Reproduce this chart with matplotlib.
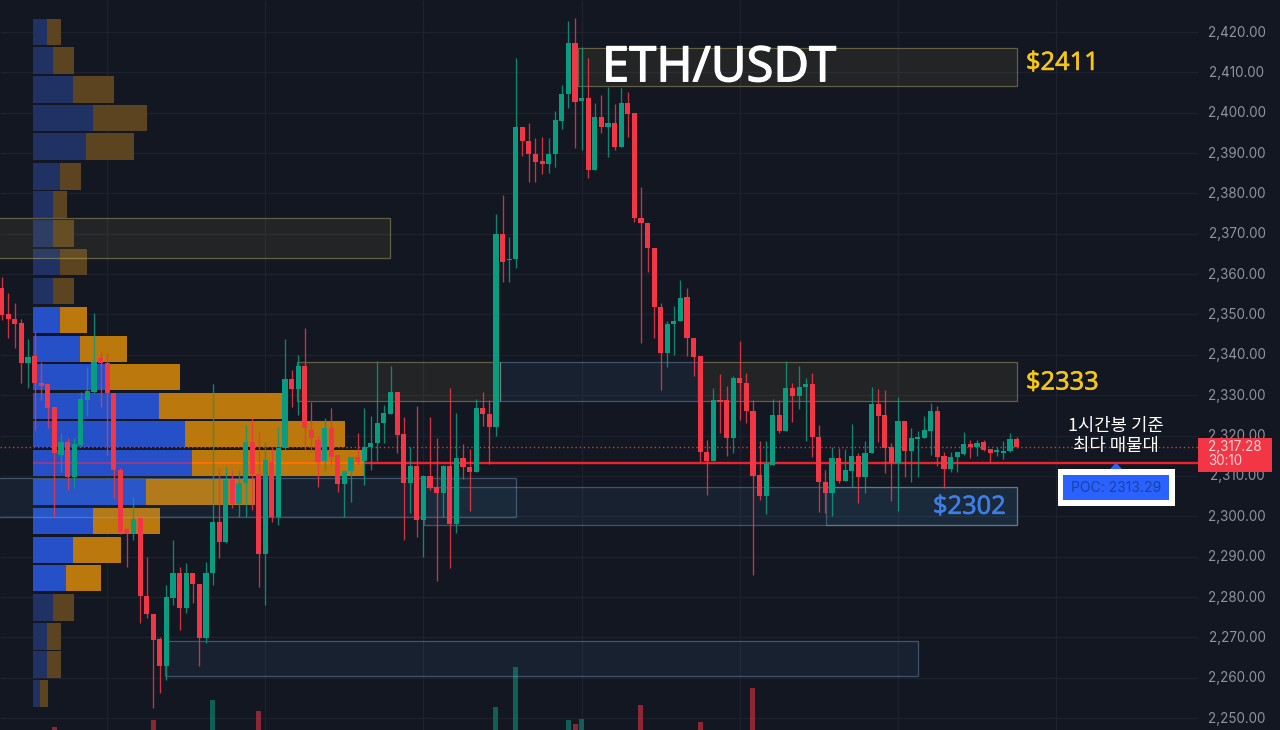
import matplotlib
matplotlib.use("Agg")
import matplotlib.pyplot as plt
import matplotlib.patheffects as pe
from matplotlib.patches import Rectangle, Polygon

plt.rcParams['font.family'] = ['Noto Sans', 'DejaVu Sans']

# Candles (1h ETH/USDT)
opens = [2356.6, 2350.1, 2348.9, 2347.9, 2338.0, 2339.7, 2333.0, 2332.8, 2327.0, 2315.2,
         2318.4, 2309.7, 2317.7, 2328.8, 2330.8, 2339.2, 2338.0, 2330.5, 2311.5, 2296.8,
         2295.6, 2299.6, 2280.2, 2275.8, 2269.6, 2262.9, 2279.7, 2285.9, 2277.3, 2285.9,
         2283.2, 2269.8, 2285.9, 2298.6, 2293.6, 2309.0, 2303.0, 2308.2, 2318.4, 2310.5,
         2290.7, 2313.4, 2299.8, 2316.9, 2334.0, 2331.5, 2337.2, 2321.4, 2318.9, 2313.7,
         2321.9, 2315.2, 2308.0, 2311.2, 2314.7, 2313.7, 2317.2, 2318.2, 2323.1, 2325.3,
         2330.8, 2320.4, 2308.2, 2312.4, 2299.1, 2310.0, 2307.2, 2305.8, 2312.4, 2298.1,
         2314.4, 2312.2, 2311.0, 2326.8, 2325.3, 2322.1, 2369.9, 2363.4, 2363.7, 2396.4,
         2393.0, 2389.8, 2388.0, 2387.3, 2389.8, 2398.0, 2404.6, 2417.3, 2402.9, 2403.6,
         2385.8, 2398.9, 2396.4, 2397.4, 2391.5, 2402.4, 2399.9, 2373.9, 2372.7, 2366.5,
         2351.8, 2340.4, 2347.6, 2348.4, 2354.3, 2344.2, 2339.7, 2315.9, 2313.7, 2328.8,
         2328.8, 2319.4, 2334.2, 2333.0, 2326.1, 2310.2, 2305.0, 2312.7, 2325.1, 2321.1,
         2331.8, 2329.8, 2332.0, 2332.8, 2319.6, 2308.5, 2305.8, 2314.4, 2308.7, 2311.2,
         2314.9, 2309.7, 2315.7, 2327.8, 2325.1, 2317.2, 2313.2, 2323.6, 2316.2, 2319.1,
         2319.4, 2321.1, 2326.1, 2314.9, 2311.7, 2314.7, 2315.4, 2317.9, 2317.2, 2318.4,
         2316.7, 2315.9, 2315.7, 2316.2, 2319.1]
highs = [2359.3, 2355.3, 2352.8, 2348.9, 2343.9, 2345.6, 2338.2, 2332.8, 2327.0, 2320.6,
         2319.4, 2319.4, 2330.8, 2337.0, 2350.4, 2340.7, 2340.5, 2330.5, 2312.0, 2297.0,
         2304.8, 2299.6, 2289.9, 2275.8, 2270.0, 2283.0, 2294.1, 2287.4, 2288.4, 2285.9,
         2283.2, 2288.7, 2332.8, 2312.0, 2312.2, 2311.5, 2311.5, 2322.6, 2324.3, 2320.9,
         2318.4, 2317.2, 2322.1, 2343.9, 2336.2, 2340.0, 2346.6, 2328.3, 2319.9, 2324.3,
         2326.8, 2315.2, 2311.2, 2314.7, 2320.6, 2326.8, 2324.8, 2338.5, 2327.6, 2337.2,
         2330.8, 2324.6, 2317.2, 2327.3, 2310.2, 2324.6, 2319.4, 2312.7, 2331.8, 2325.6,
         2317.9, 2316.7, 2329.0, 2330.8, 2328.8, 2375.0, 2379.6, 2369.2, 2413.6, 2396.4,
         2397.4, 2393.7, 2394.0, 2393.7, 2400.4, 2406.9, 2422.7, 2423.5, 2416.3, 2413.6,
         2402.4, 2404.4, 2406.4, 2402.2, 2406.1, 2405.1, 2399.9, 2381.6, 2372.7, 2366.5,
         2352.8, 2348.4, 2352.1, 2358.5, 2356.6, 2344.2, 2339.7, 2318.9, 2331.8, 2335.2,
         2332.3, 2334.8, 2343.4, 2335.5, 2328.8, 2318.6, 2318.6, 2329.0, 2328.8, 2338.5,
         2333.0, 2337.2, 2334.3, 2335.5, 2322.6, 2311.5, 2317.2, 2316.9, 2316.7, 2322.9,
         2315.7, 2318.6, 2332.0, 2331.5, 2331.3, 2318.2, 2329.5, 2323.6, 2321.9, 2321.1,
         2324.8, 2328.0, 2327.3, 2315.9, 2316.0, 2315.9, 2320.9, 2318.9, 2318.9, 2318.9,
         2316.7, 2317.2, 2318.6, 2320.6, 2319.6]
lows = [2348.6, 2344.2, 2341.7, 2333.0, 2331.8, 2321.4, 2328.8, 2321.9, 2299.8, 2311.0,
        2306.5, 2307.0, 2317.2, 2324.8, 2330.5, 2327.0, 2315.2, 2304.5, 2295.5, 2287.4,
        2294.1, 2273.5, 2274.8, 2252.5, 2256.2, 2259.4, 2278.0, 2271.8, 2276.0, 2278.5,
        2262.9, 2268.6, 2283.0, 2289.6, 2293.3, 2302.0, 2299.8, 2299.8, 2301.5, 2282.5,
        2278.0, 2298.6, 2297.8, 2316.4, 2327.0, 2325.1, 2316.4, 2316.0, 2307.2, 2311.5,
        2312.7, 2306.0, 2299.8, 2303.5, 2313.0, 2307.7, 2311.5, 2313.7, 2318.2, 2325.3,
        2315.7, 2294.1, 2300.8, 2294.9, 2289.9, 2306.5, 2284.0, 2299.8, 2287.2, 2295.9,
        2309.2, 2301.3, 2311.0, 2322.4, 2312.9, 2320.0, 2358.0, 2358.0, 2361.5, 2389.3,
        2382.8, 2382.8, 2384.8, 2385.0, 2386.5, 2396.0, 2401.2, 2391.2, 2390.8, 2383.8,
        2385.8, 2395.0, 2389.0, 2390.8, 2391.5, 2394.0, 2373.0, 2342.9, 2360.5, 2344.2,
        2331.3, 2337.0, 2340.0, 2348.4, 2339.7, 2334.8, 2313.4, 2305.2, 2313.7, 2320.6,
        2314.9, 2315.7, 2323.8, 2323.1, 2285.4, 2304.0, 2300.6, 2312.7, 2320.6, 2321.1,
        2323.3, 2326.6, 2318.6, 2314.7, 2301.0, 2300.8, 2300.0, 2308.2, 2308.7, 2307.2,
        2303.3, 2305.8, 2315.7, 2318.4, 2310.7, 2303.8, 2301.3, 2309.7, 2308.5, 2309.7,
        2319.4, 2315.2, 2312.4, 2307.0, 2311.0, 2311.0, 2315.2, 2314.4, 2315.0, 2316.2,
        2313.2, 2315.0, 2314.2, 2316.0, 2317.0]
closes = [2349.9, 2348.9, 2347.6, 2338.0, 2339.5, 2333.0, 2332.3, 2326.8, 2315.7, 2318.4,
          2309.7, 2317.9, 2329.0, 2331.0, 2338.2, 2338.0, 2330.5, 2311.5, 2296.1, 2295.6,
          2299.3, 2280.2, 2275.8, 2269.3, 2262.9, 2280.0, 2285.9, 2277.3, 2285.9, 2283.2,
          2269.8, 2285.9, 2298.6, 2293.6, 2309.0, 2303.0, 2308.2, 2318.4, 2310.5, 2290.7,
          2314.0, 2299.8, 2316.9, 2334.0, 2331.5, 2337.2, 2321.9, 2319.4, 2313.4, 2321.9,
          2314.7, 2308.0, 2311.2, 2314.7, 2313.4, 2317.2, 2318.2, 2323.1, 2325.6, 2330.8,
          2320.1, 2308.2, 2312.4, 2299.1, 2310.0, 2307.0, 2305.8, 2312.4, 2298.1, 2314.4,
          2312.2, 2311.0, 2326.8, 2325.3, 2322.1, 2369.9, 2363.0, 2363.7, 2396.4, 2393.0,
          2389.8, 2387.8, 2387.3, 2389.8, 2398.2, 2404.6, 2417.3, 2402.6, 2403.6, 2385.8,
          2398.9, 2396.4, 2397.4, 2391.5, 2402.4, 2399.7, 2373.9, 2372.7, 2366.5, 2351.8,
          2340.4, 2347.6, 2348.4, 2354.1, 2344.2, 2339.5, 2315.9, 2313.7, 2328.8, 2328.3,
          2319.4, 2334.2, 2333.0, 2326.1, 2310.0, 2305.0, 2312.9, 2325.1, 2321.1, 2331.8,
          2329.8, 2332.0, 2332.8, 2319.6, 2308.5, 2305.8, 2314.4, 2308.7, 2311.5, 2314.9,
          2309.7, 2315.7, 2327.8, 2324.8, 2316.9, 2313.2, 2323.6, 2316.2, 2319.4, 2319.6,
          2321.4, 2326.1, 2314.7, 2311.7, 2314.7, 2315.9, 2317.9, 2317.2, 2318.2, 2316.4,
          2315.7, 2316.4, 2316.2, 2319.1, 2317.28]

# Visible volume bars only, the rest sit below the frame
vol_index = [8, 23, 32, 39, 75, 78, 86, 87, 88, 97, 106, 114]
vol_values = [3, 10, 30, 19, 23, 63, 10, 6, 11, 25, 8, 42]

# Volume profile rows, top to bottom
vp_price = [2420.0, 2413.0, 2405.7, 2398.7, 2391.6, 2384.2, 2377.2, 2370.1, 2363.0, 2355.8, 2348.6, 2341.5,
            2334.5, 2327.3, 2320.4, 2313.2, 2306.0, 2298.8, 2291.6, 2284.7, 2277.4, 2270.2, 2263.3, 2256.1]
vp_buy = [14, 20, 40, 60, 53, 27, 20, 20, 27, 20, 27, 47, 74, 126, 152, 159, 113, 60, 40, 33, 20, 14, 14, 7]
vp_sell = [14, 21, 41, 54, 48, 21, 14, 21, 27, 21, 27, 47, 73, 123, 160, 172, 109, 67, 48, 35, 21, 14, 14, 8]
vp_dim = [True] * 10 + [False] * 10 + [True] * 4

# Zones: left candle, right candle, top price, bottom price
yellow_left = [87.5, -1, 44.8, 105.7]
yellow_right = [154.1, 58.9, 75.6, 154.1]
yellow_top = [2416.0, 2373.9, 2338.2, 2338.2]
yellow_bottom = [2406.6, 2364.0, 2328.6, 2328.6]
blue_left = [75.6, -1, 64.1, 125.1, 24.8]
blue_right = [105.7, 78.0, 154.1, 154.1, 139.1]
blue_top = [2338.2, 2309.5, 2307.2, 2307.2, 2269.1]
blue_bottom = [2328.6, 2299.8, 2297.8, 2297.8, 2260.4]

price_ticks = list(range(2250, 2430, 10))
time_grid = [16, 40, 64, 88, 112, 136, 160]
poc = 2313.29
last_price = 2317.28

BG = '#131722'
GRID = '#1e222e'
RED = '#f23645'
GREEN = '#0a9c80'
PX = 6.59          # pixels per candle
PY = 0.2478        # price per pixel


def px(x):
    return (x - 1.7) / PX


fig = plt.figure(figsize=(12.8, 7.3), dpi=100, facecolor=BG)
ax = fig.add_axes([0, 0, 1, 1])
ax.set_facecolor(BG)
ax.set_xlim(px(0), px(1280))
ax.set_ylim(2247.03, 2427.93)
ax.axis('off')

# Grid
ax.hlines(price_ticks, px(0), px(1198), color=GRID, lw=0.9, zorder=1)
ax.vlines(time_grid, 2247, 2428, color=GRID, lw=0.9, zorder=1)

# Volume bars at the bottom
for i, v in zip(vol_index, vol_values):
    col = GREEN if closes[i] >= opens[i] else RED
    ax.bar(i, v * PY, bottom=2247.03, width=0.76, color=col, alpha=0.55, lw=0, zorder=2)

# POC line and last price line
ax.hlines(poc, px(364), px(1198), color='#f0202c', lw=1.7, zorder=2)

# Volume profile
vp_x0 = px(33)
for p, b, s, d in zip(vp_price, vp_buy, vp_sell, vp_dim):
    c_b = '#1f3263' if d else '#2650c8'
    c_s = '#5c4420' if d else '#bb780c'
    ax.barh(p, b / PX, left=vp_x0, height=6.57, color=c_b, lw=0, zorder=3)
    ax.barh(p, s / PX, left=vp_x0 + b / PX, height=6.57, color=c_s, lw=0, zorder=3)
ax.hlines(poc, vp_x0, vp_x0 + 159 / PX, color='#8a3c96', lw=1.5, zorder=3.5)
ax.hlines(poc, vp_x0 + 159 / PX, px(364), color='#ff6e00', lw=1.5, zorder=3.5)
ax.hlines(last_price, px(0), px(1198), color='#c0404c', lw=1, ls=(0, (1, 2)), zorder=3.6)

# Zones
for x0, x1, t, b in zip(yellow_left, yellow_right, yellow_top, yellow_bottom):
    ax.add_patch(Rectangle((x0, b), x1 - x0, t - b, fc=(0.96, 0.85, 0.4, 0.07),
                           ec=(0.86, 0.80, 0.45, 0.38), lw=0.9, zorder=4))
for x0, x1, t, b in zip(blue_left, blue_right, blue_top, blue_bottom):
    ax.add_patch(Rectangle((x0, b), x1 - x0, t - b, fc=(0.3, 0.62, 0.8, 0.08),
                           ec=(0.55, 0.72, 0.88, 0.36), lw=0.9, zorder=4))

# Candles
for i, (o, h, l, c) in enumerate(zip(opens, highs, lows, closes)):
    col = GREEN if c >= o else RED
    ax.vlines(i, l, h, color=col, lw=0.95, alpha=0.85, zorder=5)
    ax.bar(i, max(abs(c - o), 0.3), bottom=min(o, c), width=0.78, color=col, lw=0, zorder=5)

# Right price scale
for t in price_ticks:
    ax.text(px(1237), t - 0.15, f'{t:,.2f}', color='#8f939f', fontsize=9.7, ha='center', va='center',
            family='Inter', zorder=6)
ax.add_patch(Rectangle((px(1198), 2311.0), px(1272) - px(1198), 8.4, fc=RED, lw=0, zorder=7))
ax.text(px(1208), last_price - 0.1, f'{last_price:,.2f}', color='#fbd5d9', fontsize=9.7, va='center',
        family='Inter', zorder=8)
ax.text(px(1208), last_price - 3.6, '30:10', color='#fbd5d9', fontsize=9.7, va='center',
        family='Inter', zorder=8)

# Annotations
ax.text(px(719), 2411.0, 'ETH/USDT', color='white', fontsize=35.2, ha='center', va='center', zorder=9,
        path_effects=[pe.withStroke(linewidth=0.9, foreground='white')])
for px_x, y, label, col in [(1026, 2412.2, '$2411', '#f5c518'), (1026, 2333.0, '$2333', '#f5c518'),
                            (933, 2302.2, '$2302', '#3d7fea')]:
    ax.text(px(px_x), y, label, color=col, fontsize=18.3, va='center', zorder=9,
            path_effects=[pe.withStroke(linewidth=0.35, foreground=col)])
ax.text(px(1116), 2322.4, '1시간봉 기준', color='white', fontsize=12.8, ha='center', va='center',
        family=['Noto Sans CJK KR', 'DejaVu Sans'], weight='medium', zorder=9)
ax.text(px(1116), 2317.4, '최다 매물대', color='white', fontsize=12.8, ha='center', va='center',
        family=['Noto Sans CJK KR', 'DejaVu Sans'], weight='medium', zorder=9)

# POC label
ax.add_patch(Rectangle((px(1058), 2302.6), px(1175) - px(1058), 9.1, fc='white', lw=0, zorder=7))
ax.add_patch(Rectangle((px(1063), 2304.0), px(1169) - px(1063), 6.2, fc='#2962ff', lw=0, zorder=8))
ax.add_patch(Polygon([(px(1110), 2311.7), (px(1122), 2311.7), (px(1116), poc)], fc='#2962ff', lw=0, zorder=8))
ax.text(px(1116), 2307.1, f'POC: {poc:.2f}', color='#1c419f', fontsize=10, ha='center', va='center',
        family='Inter', zorder=9)

fig.savefig('out.png', dpi=100, facecolor=BG)
